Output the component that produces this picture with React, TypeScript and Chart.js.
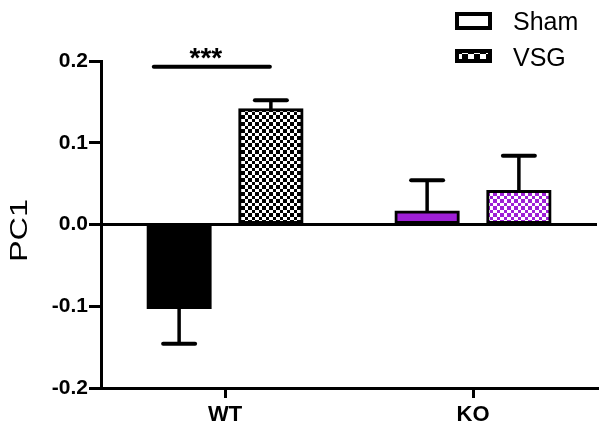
import React, { useEffect, useRef } from "react";
import { Chart, registerables } from "chart.js";

Chart.register(...registerables);

const categories = ["WT", "KO"];
const seriesNames = ["Sham", "VSG"];
const shamValues = [-0.102, 0.016];
const vsgValues = [0.141, 0.041];
const shamErrors = [0.044, 0.038];
const vsgErrors = [0.011, 0.043];
const yMin = -0.2;
const yMax = 0.2;
const yStep = 0.1;
const yTitle = "PC1";
const sigValue = 0.193;
const sigLabel = "***";

const PURPLE = "#9e1fd6";
const FONT = "'Liberation Sans', Arial, sans-serif";

function makeChecker(color: string, cell: number, big: number) {
  const c = document.createElement("canvas");
  c.width = cell + big;
  c.height = cell + big;
  const g = c.getContext("2d")!;
  g.fillStyle = "#ffffff";
  g.fillRect(0, 0, c.width, c.height);
  g.fillStyle = color;
  g.fillRect(0, 0, cell, cell);
  g.fillRect(cell, cell, big, big);
  return g.createPattern(c, "repeat")!;
}

export default function App() {
  const ref = useRef<HTMLCanvasElement>(null);
  useEffect(() => {
    const canvas = ref.current!;
    const ctx = canvas.getContext("2d")!;
    const blackChecker = makeChecker("#000000", 3, 4);
    const purpleChecker = makeChecker(PURPLE, 3, 4);
    const legendChecker = makeChecker("#000000", 6, 6);
    const errors = [shamErrors, vsgErrors];

    const overlay = {
      id: "overlay",
      afterDatasetsDraw(chart: any) {
        const g = chart.ctx;
        const yS = chart.scales.y;
        g.save();
        g.strokeStyle = "#000";
        chart.data.datasets.forEach((ds: any, di: number) => {
          const meta = chart.getDatasetMeta(di);
          meta.data.forEach((bar: any, i: number) => {
            const v = ds.data[i];
            const e = errors[di][i];
            const end = yS.getPixelForValue(v + (v >= 0 ? e : -e));
            g.lineWidth = 3.5;
            g.lineCap = "butt";
            g.beginPath();
            g.moveTo(bar.x, bar.y);
            g.lineTo(bar.x, end);
            g.stroke();
            g.lineWidth = 4;
            g.lineCap = "round";
            g.beginPath();
            g.moveTo(bar.x - 16, end);
            g.lineTo(bar.x + 16, end);
            g.stroke();
          });
        });
        // significance
        const b0 = chart.getDatasetMeta(0).data[0];
        const b1 = chart.getDatasetMeta(1).data[0];
        const sy = yS.getPixelForValue(sigValue);
        const x0 = b0.x - b0.width * 0.4;
        const x1 = b1.x - 1;
        g.lineWidth = 4;
        g.lineCap = "round";
        g.beginPath();
        g.moveTo(x0, sy);
        g.lineTo(x1, sy);
        g.stroke();
        g.fillStyle = "#000";
        g.font = `bold 28px ${FONT}`;
        g.textAlign = "center";
        g.textBaseline = "alphabetic";
        g.fillText(sigLabel, (x0 + x1) / 2 - 6, sy);

        // legend
        g.lineCap = "butt";
        g.lineWidth = 4;
        g.fillStyle = "#fff";
        g.fillRect(457, 14, 33, 14);
        g.strokeRect(457, 14, 33, 14);
        g.fillStyle = legendChecker;
        g.fillRect(457, 51, 33, 10);
        g.strokeRect(457, 51, 33, 10);
        g.fillStyle = "#000";
        g.font = `25px ${FONT}`;
        g.textAlign = "left";
        g.fillText(seriesNames[0], 513, 30);
        g.fillText(seriesNames[1], 513, 66);

        // y-axis title (stretched along its length like the reference)
        const cy = (yS.top + yS.bottom) / 2 + 6;
        g.translate(18.5, cy);
        g.rotate(-Math.PI / 2);
        g.scale(1.35, 1);
        g.font = `24px ${FONT}`;
        g.textAlign = "center";
        g.fillText(yTitle, 0, 8.6);
        g.restore();
      },
    };

    const chart = new Chart(ctx, {
      type: "bar",
      data: {
        labels: categories,
        datasets: [
          {
            label: seriesNames[0],
            data: shamValues,
            backgroundColor: ["#000000", PURPLE],
            borderColor: "#000",
            borderWidth: 3,
            borderRadius: 0,
            borderSkipped: false,
            inflateAmount: 1,
            categoryPercentage: 0.74,
            barPercentage: 0.69,
          },
          {
            label: seriesNames[1],
            data: vsgValues,
            backgroundColor: [blackChecker, purpleChecker],
            borderColor: "#000",
            borderWidth: 3,
            borderRadius: 0,
            borderSkipped: false,
            inflateAmount: 1,
            categoryPercentage: 0.74,
            barPercentage: 0.69,
          },
        ],
      },
      options: {
        responsive: false,
        animation: false,
        layout: { padding: { top: 61, right: 3, left: 0, bottom: 0 } },
        plugins: { legend: { display: false }, tooltip: { enabled: false } },
        scales: {
          x: {
            afterFit: (s: any) => {
              s.height = 44;
            },
            grid: {
              offset: false,
              drawOnChartArea: false,
              drawTicks: true,
              tickLength: 10,
              tickColor: "#000",
              tickWidth: 3,
              lineWidth: 3,
              color: "#000",
            },
            border: { display: true, color: "#000", width: 3 },
            ticks: {
              color: "#000",
              padding: 4,
              font: { family: FONT, size: 22, weight: "bold" },
            },
          },
          y: {
            min: yMin,
            max: yMax,
            afterFit: (s: any) => {
              s.width = 101;
            },
            grid: {
              drawOnChartArea: true,
              color: (c: any) =>
                c.tick && Math.abs(c.tick.value) < 1e-9 ? "#000" : "rgba(0,0,0,0)",
              lineWidth: 3,
              tickColor: "#000",
              tickWidth: 3,
              tickLength: 12,
            },
            border: { display: true, color: "#000", width: 3 },
            ticks: {
              stepSize: yStep,
              color: "#000",
              padding: 1,
              font: { family: FONT, size: 21, weight: "bold" },
              callback: (v: any) => {
                const n = Math.abs(v) < 1e-9 ? 0 : Number(v);
                return n.toFixed(1);
              },
            },
            title: { display: false },
          },
        },
      },
      plugins: [overlay],
    });
    return () => chart.destroy();
  }, []);

  return (
    <div style={{ position: "fixed", left: 0, top: 0, width: 600, height: 432, background: "#fff" }}>
      <canvas ref={ref} width={600} height={432} style={{ display: "block" }} />
    </div>
  );
}
